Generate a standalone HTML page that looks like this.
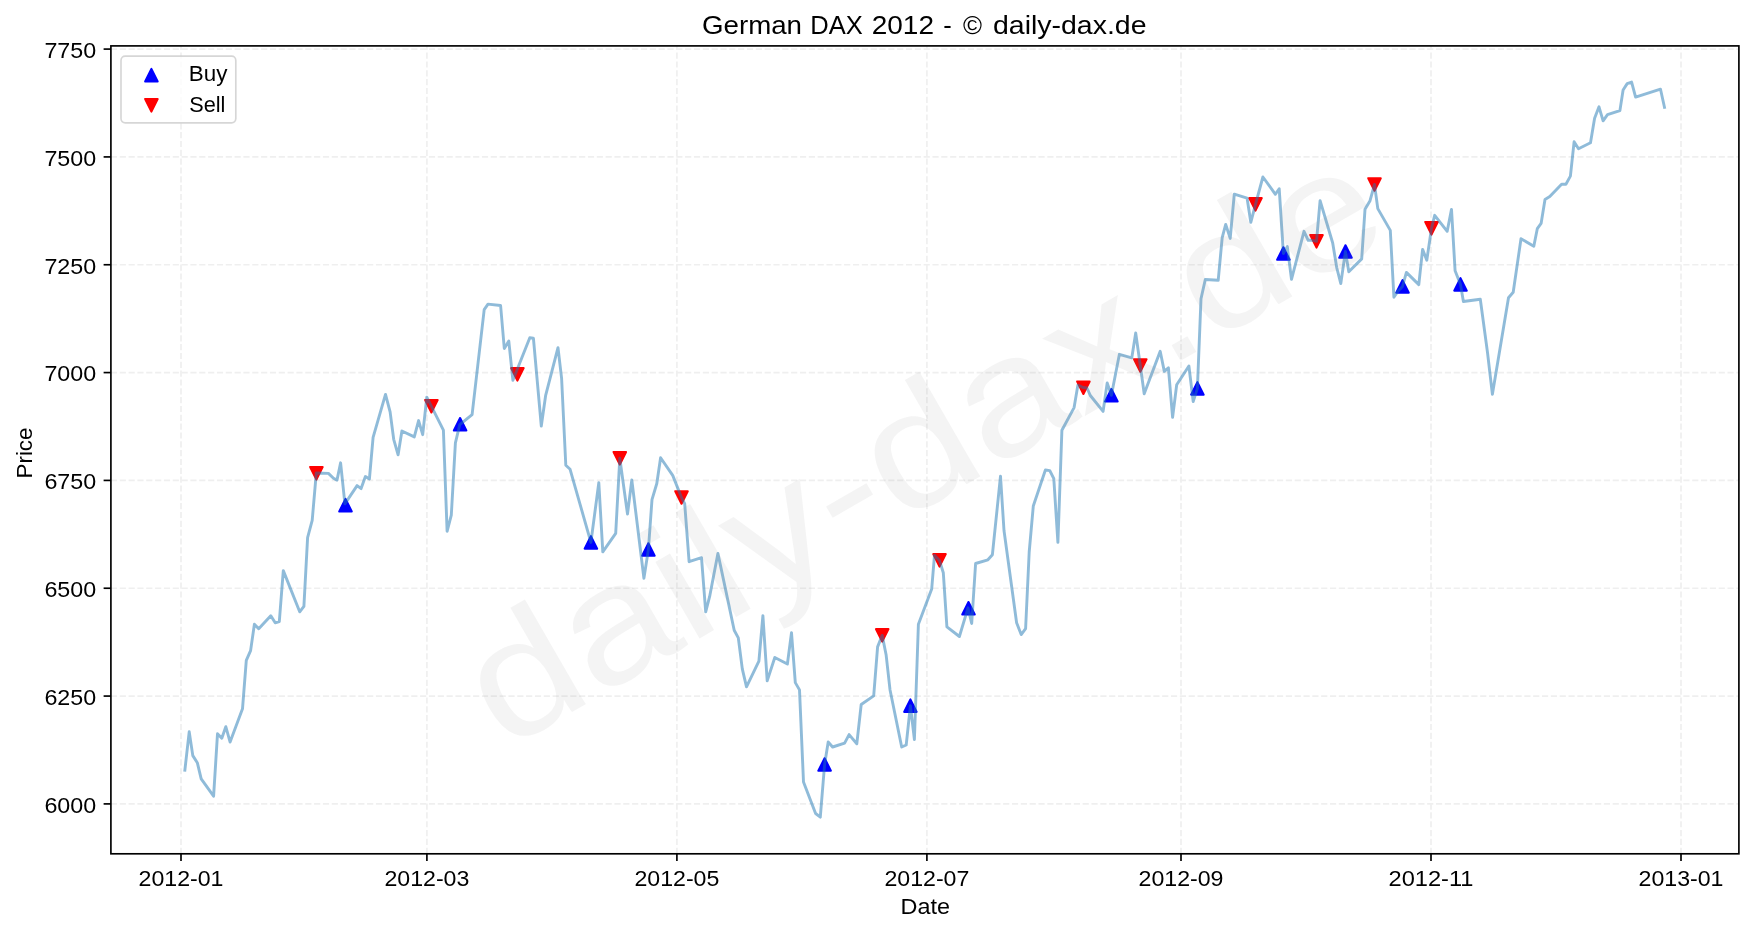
<!DOCTYPE html><html><head><meta charset="utf-8"><style>html,body{margin:0;padding:0;background:#fff;}svg{display:block;will-change:transform;}text{font-family:"Liberation Sans",sans-serif;}</style></head><body>
<svg width="1753" height="932" viewBox="0 0 1753 932">
<rect x="0" y="0" width="1753" height="932" fill="#fff"/>
<g stroke="#efefef" stroke-width="1.667" stroke-dasharray="6.167 2.667" fill="none"><line x1="181.00" y1="853.8" x2="181.00" y2="45.9"/><line x1="426.90" y1="853.8" x2="426.90" y2="45.9"/><line x1="676.90" y1="853.8" x2="676.90" y2="45.9"/><line x1="926.90" y1="853.8" x2="926.90" y2="45.9"/><line x1="1181.00" y1="853.8" x2="1181.00" y2="45.9"/><line x1="1431.00" y1="853.8" x2="1431.00" y2="45.9"/><line x1="1681.00" y1="853.8" x2="1681.00" y2="45.9"/><line x1="110.9" y1="803.90" x2="1738.9" y2="803.90"/><line x1="110.9" y1="696.07" x2="1738.9" y2="696.07"/><line x1="110.9" y1="588.24" x2="1738.9" y2="588.24"/><line x1="110.9" y1="480.41" x2="1738.9" y2="480.41"/><line x1="110.9" y1="372.58" x2="1738.9" y2="372.58"/><line x1="110.9" y1="264.75" x2="1738.9" y2="264.75"/><line x1="110.9" y1="156.92" x2="1738.9" y2="156.92"/><line x1="110.9" y1="49.09" x2="1738.9" y2="49.09"/></g>
<g stroke-width="2.083" stroke-linejoin="round"><polygon points="345.50,498.95 339.25,511.45 351.75,511.45" fill="#0000ff" stroke="#0000ff"/><polygon points="460.10,418.05 453.85,430.55 466.35,430.55" fill="#0000ff" stroke="#0000ff"/><polygon points="590.90,536.15 584.65,548.65 597.15,548.65" fill="#0000ff" stroke="#0000ff"/><polygon points="648.40,543.25 642.15,555.75 654.65,555.75" fill="#0000ff" stroke="#0000ff"/><polygon points="824.60,758.25 818.35,770.75 830.85,770.75" fill="#0000ff" stroke="#0000ff"/><polygon points="910.40,699.35 904.15,711.85 916.65,711.85" fill="#0000ff" stroke="#0000ff"/><polygon points="968.50,602.05 962.25,614.55 974.75,614.55" fill="#0000ff" stroke="#0000ff"/><polygon points="1111.40,389.05 1105.15,401.55 1117.65,401.55" fill="#0000ff" stroke="#0000ff"/><polygon points="1197.40,382.15 1191.15,394.65 1203.65,394.65" fill="#0000ff" stroke="#0000ff"/><polygon points="1283.40,247.25 1277.15,259.75 1289.65,259.75" fill="#0000ff" stroke="#0000ff"/><polygon points="1345.50,245.25 1339.25,257.75 1351.75,257.75" fill="#0000ff" stroke="#0000ff"/><polygon points="1402.50,280.15 1396.25,292.65 1408.75,292.65" fill="#0000ff" stroke="#0000ff"/><polygon points="1460.50,278.15 1454.25,290.65 1466.75,290.65" fill="#0000ff" stroke="#0000ff"/><polygon points="316.40,479.55 310.15,467.05 322.65,467.05" fill="#ff0000" stroke="#ff0000"/><polygon points="431.40,412.45 425.15,399.95 437.65,399.95" fill="#ff0000" stroke="#ff0000"/><polygon points="517.40,380.65 511.15,368.15 523.65,368.15" fill="#ff0000" stroke="#ff0000"/><polygon points="619.80,464.55 613.55,452.05 626.05,452.05" fill="#ff0000" stroke="#ff0000"/><polygon points="681.50,503.75 675.25,491.25 687.75,491.25" fill="#ff0000" stroke="#ff0000"/><polygon points="882.20,641.65 875.95,629.15 888.45,629.15" fill="#ff0000" stroke="#ff0000"/><polygon points="939.50,566.65 933.25,554.15 945.75,554.15" fill="#ff0000" stroke="#ff0000"/><polygon points="1083.40,393.95 1077.15,381.45 1089.65,381.45" fill="#ff0000" stroke="#ff0000"/><polygon points="1140.30,371.75 1134.05,359.25 1146.55,359.25" fill="#ff0000" stroke="#ff0000"/><polygon points="1255.50,210.65 1249.25,198.15 1261.75,198.15" fill="#ff0000" stroke="#ff0000"/><polygon points="1316.50,247.55 1310.25,235.05 1322.75,235.05" fill="#ff0000" stroke="#ff0000"/><polygon points="1374.50,190.75 1368.25,178.25 1380.75,178.25" fill="#ff0000" stroke="#ff0000"/><polygon points="1431.50,234.55 1425.25,222.05 1437.75,222.05" fill="#ff0000" stroke="#ff0000"/></g>
<polyline points="184.7,771.7 189.2,731.8 192.8,755.6 197.3,762.7 201.2,778.8 213.6,796.2 217.5,733.8 221.8,738.3 225.8,726.7 230.1,742.1 242.5,708.8 246.3,660.3 250.6,650.6 254.4,624.3 258.7,628.8 270.8,615.7 275.2,622.8 279.3,621.7 283.3,570.6 299.7,611.8 303.9,606.3 307.6,537.6 312.2,520.3 316.3,473.0 328.4,473.4 333.5,478.3 337.0,480.1 340.6,462.8 344.9,503.9 357.1,485.6 361.1,488.6 365.4,476.5 369.4,479.0 373.1,437.3 385.5,394.4 390.1,411.9 393.7,439.3 398.1,454.8 401.9,431.0 414.3,436.9 418.6,420.6 422.7,434.7 426.8,397.1 443.4,430.1 447.1,531.3 451.3,515.2 455.4,442.8 459.8,424.7 472.1,414.7 484.2,309.6 488.0,304.1 500.6,305.5 504.3,348.5 508.8,341.1 512.9,380.3 529.8,337.8 533.4,338.1 541.3,426.0 545.6,395.7 558.0,347.7 561.6,378.3 565.8,465.3 570.1,469.3 590.9,542.4 598.8,482.7 602.8,551.9 615.7,533.4 619.8,458.3 627.5,514.1 631.8,480.0 643.9,578.2 648.4,549.5 652.0,499.6 656.8,483.5 660.6,457.8 672.7,475.4 681.5,497.5 684.7,503.7 689.1,561.7 701.5,557.7 705.7,611.8 709.6,596.7 717.9,553.4 734.2,630.2 738.3,637.9 742.3,668.9 746.5,686.9 758.9,661.1 762.9,615.6 767.2,680.9 774.8,657.5 787.4,664.0 791.5,632.7 795.3,682.6 799.5,689.9 803.5,782.0 815.6,813.5 820.3,817.1 824.6,764.5 828.2,742.0 832.6,747.0 844.6,743.1 849.1,734.6 856.8,743.8 861.2,704.5 873.7,695.9 877.6,646.9 882.2,635.4 886.1,654.7 890.0,689.7 901.7,747.0 906.2,745.0 910.4,705.6 914.4,739.5 918.4,624.3 931.7,589.0 934.5,555.2 939.5,560.4 943.3,572.7 946.9,626.8 959.4,636.5 968.0,607.8 971.7,623.5 975.6,563.5 987.9,559.8 992.4,554.7 1000.5,476.2 1004.0,530.5 1016.6,622.7 1021.2,634.6 1025.6,628.7 1029.2,552.0 1033.3,506.0 1045.4,470.0 1049.8,470.6 1053.8,478.7 1057.9,542.4 1061.9,430.3 1074.1,407.6 1077.9,385.1 1083.0,387.5 1087.0,388.0 1090.3,395.5 1103.1,411.4 1107.2,382.9 1111.4,395.3 1119.4,354.3 1131.8,357.8 1135.7,333.0 1140.3,365.5 1144.2,393.8 1160.2,351.3 1164.3,371.4 1168.4,367.8 1172.6,417.4 1176.7,384.7 1188.9,366.0 1193.2,401.5 1197.4,388.4 1201.0,298.8 1205.3,279.5 1218.2,280.3 1222.2,237.6 1225.7,224.4 1230.2,238.4 1234.3,194.1 1247.1,198.2 1250.8,222.3 1255.5,204.4 1262.9,177.0 1275.4,194.3 1279.2,188.7 1283.4,253.5 1287.3,246.6 1291.5,279.4 1304.0,231.3 1308.2,240.3 1312.2,240.3 1316.5,241.3 1320.1,200.6 1332.7,243.0 1336.8,268.0 1340.8,283.6 1345.4,251.5 1348.8,271.7 1361.7,258.9 1365.0,209.3 1369.9,201.1 1374.5,184.5 1377.8,208.6 1390.3,230.4 1393.9,297.2 1398.2,291.0 1402.5,286.4 1406.4,272.4 1418.8,284.6 1422.6,249.4 1426.8,260.2 1431.5,228.3 1434.7,215.3 1447.2,231.3 1451.5,209.4 1455.1,270.8 1460.5,284.4 1463.4,301.5 1480.3,299.2 1487.5,352.5 1492.4,394.3 1508.5,297.7 1513.2,292.3 1521.0,238.7 1533.8,246.2 1537.3,228.7 1541.1,223.4 1545.0,199.5 1549.8,196.6 1561.6,184.2 1565.9,184.2 1570.4,176.1 1574.1,141.8 1578.5,148.8 1590.5,142.8 1594.6,118.2 1599.0,106.8 1603.1,120.8 1607.5,114.7 1619.9,110.6 1623.1,90.0 1627.2,83.6 1631.6,82.1 1635.6,97.1 1660.5,89.2 1664.8,108.8" fill="none" stroke="#1f77b4" stroke-opacity="0.5" stroke-width="2.9" stroke-linejoin="round" stroke-linecap="butt"/>
<text transform="translate(928 456) rotate(-30)" x="0" y="43.7" text-anchor="middle" font-size="167" textLength="1027.7" lengthAdjust="spacingAndGlyphs" fill="#808080" fill-opacity="0.09">daily-dax.de</text>
<rect x="110.9" y="45.9" width="1628.00" height="807.90" fill="none" stroke="#000" stroke-width="1.667" stroke-linejoin="miter"/>
<g stroke="#000" stroke-width="1.667"><line x1="181.00" y1="853.8" x2="181.00" y2="861.09"/><line x1="426.90" y1="853.8" x2="426.90" y2="861.09"/><line x1="676.90" y1="853.8" x2="676.90" y2="861.09"/><line x1="926.90" y1="853.8" x2="926.90" y2="861.09"/><line x1="1181.00" y1="853.8" x2="1181.00" y2="861.09"/><line x1="1431.00" y1="853.8" x2="1431.00" y2="861.09"/><line x1="1681.00" y1="853.8" x2="1681.00" y2="861.09"/><line x1="110.9" y1="803.90" x2="103.61" y2="803.90"/><line x1="110.9" y1="696.07" x2="103.61" y2="696.07"/><line x1="110.9" y1="588.24" x2="103.61" y2="588.24"/><line x1="110.9" y1="480.41" x2="103.61" y2="480.41"/><line x1="110.9" y1="372.58" x2="103.61" y2="372.58"/><line x1="110.9" y1="264.75" x2="103.61" y2="264.75"/><line x1="110.9" y1="156.92" x2="103.61" y2="156.92"/><line x1="110.9" y1="49.09" x2="103.61" y2="49.09"/></g>
<g font-size="22.8" fill="#000"><text x="181.00" y="885.9" text-anchor="middle" textLength="85" lengthAdjust="spacingAndGlyphs">2012-01</text><text x="426.90" y="885.9" text-anchor="middle" textLength="85" lengthAdjust="spacingAndGlyphs">2012-03</text><text x="676.90" y="885.9" text-anchor="middle" textLength="85" lengthAdjust="spacingAndGlyphs">2012-05</text><text x="926.90" y="885.9" text-anchor="middle" textLength="85" lengthAdjust="spacingAndGlyphs">2012-07</text><text x="1181.00" y="885.9" text-anchor="middle" textLength="85" lengthAdjust="spacingAndGlyphs">2012-09</text><text x="1431.00" y="885.9" text-anchor="middle" textLength="85" lengthAdjust="spacingAndGlyphs">2012-11</text><text x="1681.00" y="885.9" text-anchor="middle" textLength="85" lengthAdjust="spacingAndGlyphs">2013-01</text><text x="96.2" y="812.80" text-anchor="end" textLength="51.8" lengthAdjust="spacingAndGlyphs">6000</text><text x="96.2" y="704.97" text-anchor="end" textLength="51.8" lengthAdjust="spacingAndGlyphs">6250</text><text x="96.2" y="597.14" text-anchor="end" textLength="51.8" lengthAdjust="spacingAndGlyphs">6500</text><text x="96.2" y="489.31" text-anchor="end" textLength="51.8" lengthAdjust="spacingAndGlyphs">6750</text><text x="96.2" y="381.48" text-anchor="end" textLength="51.8" lengthAdjust="spacingAndGlyphs">7000</text><text x="96.2" y="273.65" text-anchor="end" textLength="51.8" lengthAdjust="spacingAndGlyphs">7250</text><text x="96.2" y="165.82" text-anchor="end" textLength="51.8" lengthAdjust="spacingAndGlyphs">7500</text><text x="96.2" y="57.99" text-anchor="end" textLength="51.8" lengthAdjust="spacingAndGlyphs">7750</text></g>
<text x="925.3" y="913.9" text-anchor="middle" font-size="22.5" textLength="49.5" lengthAdjust="spacingAndGlyphs">Date</text>
<text transform="translate(32.2 453) rotate(-90)" x="0" y="0" text-anchor="middle" font-size="22.5" textLength="51" lengthAdjust="spacingAndGlyphs">Price</text>
<g font-size="25.6" fill="#000"><text x="702.00" y="34.0" textLength="100.00" lengthAdjust="spacingAndGlyphs">German</text><text x="810.25" y="34.0" textLength="52.50" lengthAdjust="spacingAndGlyphs">DAX</text><text x="871.75" y="34.0" textLength="62.25" lengthAdjust="spacingAndGlyphs">2012</text><text x="943.25" y="34.0" textLength="8.50" lengthAdjust="spacingAndGlyphs">-</text><text x="963.00" y="34.0" textLength="19.00" lengthAdjust="spacingAndGlyphs">©</text><text x="993.00" y="34.0" textLength="153.50" lengthAdjust="spacingAndGlyphs">daily-dax.de</text></g>
<rect x="121.0" y="56.2" width="114.8" height="66.6" rx="4.2" ry="4.2" fill="#fff" fill-opacity="0.8" stroke="#cccccc" stroke-opacity="0.8" stroke-width="1.667"/>
<polygon points="151.40,68.95 145.15,81.45 157.65,81.45" fill="#0000ff" stroke="#0000ff" stroke-width="2.083" stroke-linejoin="round"/>
<polygon points="151.40,111.55 145.15,99.05 157.65,99.05" fill="#ff0000" stroke="#ff0000" stroke-width="2.083" stroke-linejoin="round"/>
<text x="188.8" y="81.3" font-size="22.8" textLength="38.6" lengthAdjust="spacingAndGlyphs">Buy</text>
<text x="189.2" y="112.1" font-size="22.8" textLength="36.2" lengthAdjust="spacingAndGlyphs">Sell</text>
</svg></body></html>
